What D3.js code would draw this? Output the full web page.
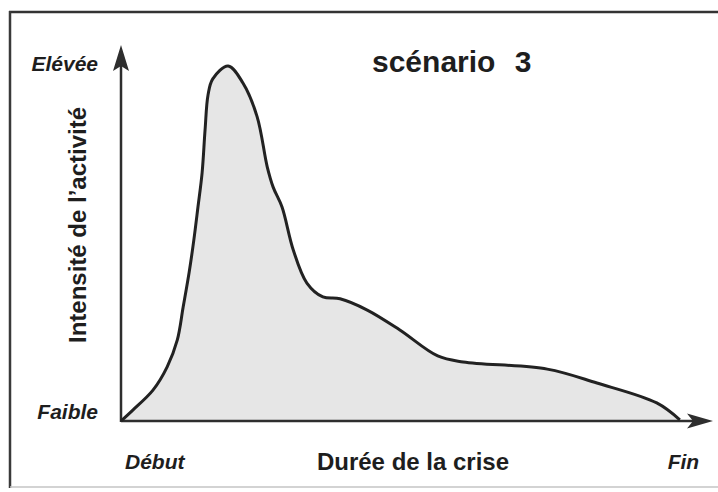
<!DOCTYPE html>
<html>
<head>
<meta charset="utf-8">
<script src="https://cdn.jsdelivr.net/npm/d3@7"></script>
<style>
	body { margin: 0; background: #fff; }
	text { font-family: "Liberation Sans", Arial, sans-serif; fill: #1e1e1e; }
</style>
</head>
<body>
<div id="chart"></div>
<script>
// duration of the crisis (0 = début, 100 = fin) and activity intensity (0 = faible, 100 = élevée)
const duree     = [0, 2.0, 5.4, 7.8, 9.5, 10.5, 11.5, 12.3, 13.0, 13.7, 14.2, 14.7, 15.5, 18.1, 20.6, 23.0, 24.7, 25.7, 27.2, 29.1, 31.4, 34.1, 37.0, 41.6, 47.1, 53.5, 57.8, 72.0, 80.4, 90.5, 94.4];
const intensite = [0, 2.9, 8.2, 14.4, 21.5, 30.3, 39.4, 48.1, 56.9, 66.0, 77.4, 86.7, 91.0, 94.4, 89.9, 80.9, 67.6, 62.2, 56.9, 45.5, 36.7, 33.0, 32.5, 29.5, 24.2, 17.3, 15.7, 13.8, 10.1, 4.8, 0.3];

const xTickValues = [5.7, 95];
const xTickLabels = ['Début', 'Fin'];
const yTickValues = [0, 92.5];
const yTickLabels = ['Faible', 'Elévée'];

const title  = 'scénario 3';
const xTitle = 'Durée de la crise';
const yTitle = 'Intensité de l\u2019activité';

let width  = 718,
	height = 492,
	x = d3.scaleLinear().domain([0, 100]).range([121, 713]),
	y = d3.scaleLinear().domain([0, 100]).range([421, 45]);

let svg = d3.select('#chart').append('svg')
			.attr('width', width)
			.attr('height', height);

svg.append('rect').attr('width', width).attr('height', height).style('fill', '#fff');

// scanned frame: dark top and left edge, faint bottom edge
svg.append('line').attr('x1', 9).attr('x2', width).attr('y1', 12).attr('y2', 12)
	.style('stroke', '#333').style('stroke-width', 2.5);
svg.append('line').attr('x1', 10).attr('x2', 10).attr('y1', 11).attr('y2', 488)
	.style('stroke', '#3a3a3a').style('stroke-width', 2.5);
svg.append('line').attr('x1', 10).attr('x2', width).attr('y1', 487).attr('y2', 487)
	.style('stroke', '#c4c4c4').style('stroke-width', 1.5);

let data = duree.map((d, i) => ({x: d, y: intensite[i]}));

let area = d3.area()
			.x(d => x(d.x))
			.y0(y(0))
			.y1(d => y(d.y))
			.curve(d3.curveCatmullRom.alpha(0.5));
let line = d3.line()
			.x(d => x(d.x))
			.y(d => y(d.y))
			.curve(d3.curveCatmullRom.alpha(0.5));

svg.append('path').datum(data)
	.attr('d', area)
	.style('fill', '#e6e6e6');

// axes with arrow heads
let x0 = x.range()[0], x1 = x.range()[1],
	y0 = y.range()[0], y1 = y.range()[1];

svg.append('line').attr('x1', x0).attr('x2', x1 - 20).attr('y1', y0).attr('y2', y0)
	.style('stroke', '#2e2e2e').style('stroke-width', 2.5);
svg.append('line').attr('x1', x0).attr('x2', x0).attr('y1', y0 + 1).attr('y2', y1 + 20)
	.style('stroke', '#2e2e2e').style('stroke-width', 2.5);

svg.append('path')
	.attr('d', `M${x1},${y0} L${x1 - 26},${y0 - 7.5} L${x1 - 20},${y0} L${x1 - 26},${y0 + 7.5} Z`)
	.style('fill', '#2e2e2e');
svg.append('path')
	.attr('d', `M${x0},${y1} L${x0 - 8},${y1 + 26} L${x0},${y1 + 21} L${x0 + 8},${y1 + 26} Z`)
	.style('fill', '#2e2e2e');

svg.append('path').datum(data)
	.attr('d', line)
	.style('fill', 'none')
	.style('stroke', '#222')
	.style('stroke-width', 3)
	.style('stroke-linejoin', 'round');

// labels
svg.selectAll('.ytick')
	.data(yTickValues).enter().append('text')
	.attr('class', 'ytick')
	.attr('x', 98)
	.attr('y', d => y(d) - 2)
	.attr('text-anchor', 'end')
	.text((d, i) => yTickLabels[i])
	.style('font-size', '21px')
	.style('font-weight', 'bold')
	.style('font-style', 'italic');

svg.selectAll('.xtick')
	.data(xTickValues).enter().append('text')
	.attr('class', 'xtick')
	.attr('x', d => x(d))
	.attr('y', 469)
	.attr('text-anchor', 'middle')
	.text((d, i) => xTickLabels[i])
	.style('font-size', '21px')
	.style('font-weight', 'bold')
	.style('font-style', 'italic');

svg.append('text')
	.attr('x', 413)
	.attr('y', 470)
	.attr('text-anchor', 'middle')
	.text(xTitle)
	.style('font-size', '24px')
	.style('font-weight', 'bold');

svg.append('text')
	.attr('transform', 'translate(86, 225) rotate(-90)')
	.attr('text-anchor', 'middle')
	.text(yTitle)
	.style('font-size', '24px')
	.style('font-weight', 'bold');

svg.append('text')
	.attr('x', 372)
	.attr('y', 72)
	.text(title)
	.style('font-size', '30px')
	.style('font-weight', 'bold')
	.style('word-spacing', '11px');
</script>
</body>
</html>
